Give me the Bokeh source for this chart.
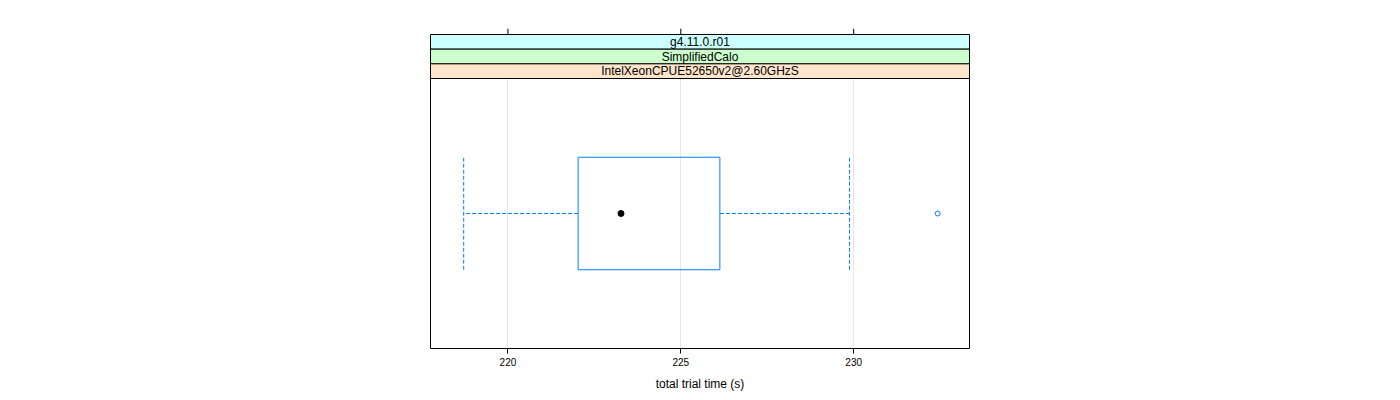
from bokeh.plotting import figure
from bokeh.models import Range1d, FixedTicker, ColumnDataSource
from bokeh.embed import file_html
from bokeh.resources import INLINE
from bokeh.core.properties import value

# ---- data ----
category = ["run"]
whisker_low = [218.72]
q1 = [222.03]
median = [223.27]
q3 = [226.13]
whisker_high = [229.88]
outliers = [232.43]
x_ticks = [220, 225, 230]
x_limits = [217.76, 233.35]
strip_labels = ["g4.11.0.r01", "SimplifiedCalo", "IntelXeonCPUE52650v2@2.60GHzS"]
strip_colors = ["#ccffff", "#ccffcc", "#ffe5cc"]
x_title = "total trial time (s)"

# ---- layout ----
FONT = "Liberation Sans"
BOX_COL = "#0080ff"
DASH = "4 2"
panel_w = 539
panel_px = 270
strip_px = 44 / 3.0
tick_px = 6
pad = 2
strip_top = panel_px + strip_px * len(strip_labels)
frame_top_px = strip_top + tick_px

upp_x = (x_limits[1] - x_limits[0]) / panel_w
fx0 = x_limits[0] - pad * upp_x
fx1 = x_limits[1] + pad * upp_x

ypos = [i + 1 for i in range(len(category))]
y_lo = 0.4
y_hi_panel = len(category) + 0.6
upp_y = (y_hi_panel - y_lo) / panel_px
fy0 = y_lo - pad * upp_y
fy1 = y_lo + frame_top_px * upp_y
half = 0.25

p = figure(
    output_backend="svg", toolbar_location=None,
    frame_width=panel_w + 2 * pad, frame_height=int(round(frame_top_px + pad)),
    min_border_left=430 - pad, min_border_right=419,
    min_border_top=28, min_border_bottom=46,
    x_range=Range1d(fx0, fx1), y_range=Range1d(fy0, fy1),
    y_axis_location=None, x_axis_location="below",
)
p.extra_y_ranges = {"px": Range1d(-pad, frame_top_px)}
p.outline_line_color = None
p.background_fill_color = "white"
p.border_fill_color = "white"

ticker = FixedTicker(ticks=x_ticks)
ax = p.xaxis[0]
ax.ticker = ticker
ax.axis_line_color = None
ax.major_tick_out = 3
ax.major_tick_in = pad
ax.minor_tick_line_color = None
ax.major_tick_line_color = "black"
ax.major_label_text_font = FONT
ax.major_label_text_font_size = "10px"
ax.major_label_text_color = "black"
ax.major_label_standoff = 4
ax.axis_label = x_title
ax.axis_label_text_font = FONT
ax.axis_label_text_font_size = "12px"
ax.axis_label_text_font_style = "normal"
ax.axis_label_text_color = "black"
ax.axis_label_standoff = 8

p.xgrid.ticker = ticker
p.xgrid.grid_line_color = "#e6e6e6"
p.ygrid.grid_line_color = None

# panel border
p.quad(left=[x_limits[0]], right=[x_limits[1]], bottom=[0], top=[panel_px],
       fill_alpha=0, line_color="black", line_width=1, y_range_name="px")

# top tick marks
p.segment(x0=x_ticks, y0=[strip_top] * len(x_ticks), x1=x_ticks, y1=[frame_top_px] * len(x_ticks),
          line_color="black", line_width=1, y_range_name="px")

# box
p.quad(left=q1, right=q3, bottom=[y - half for y in ypos], top=[y + half for y in ypos],
       fill_alpha=0, line_color=BOX_COL, line_width=1)
# whiskers
p.segment(x0=q1, y0=ypos, x1=whisker_low, y1=ypos, line_color=BOX_COL, line_dash=DASH, line_width=1)
p.segment(x0=q3, y0=ypos, x1=whisker_high, y1=ypos, line_color=BOX_COL, line_dash=DASH, line_width=1)
p.segment(x0=whisker_low, y0=[y - half for y in ypos], x1=whisker_low, y1=[y + half for y in ypos],
          line_color=BOX_COL, line_dash=DASH, line_width=1)
p.segment(x0=whisker_high, y0=[y - half for y in ypos], x1=whisker_high, y1=[y + half for y in ypos],
          line_color=BOX_COL, line_dash=DASH, line_width=1)
# median dot and outlier
p.scatter(x=median, y=ypos, size=6, marker="circle", fill_color="black", line_color="black")
p.scatter(x=outliers, y=[ypos[0]] * len(outliers), size=5, marker="circle",
          fill_alpha=0, line_color=BOX_COL, line_width=1)

# strips (top to bottom)
n = len(strip_labels)
bottoms = [panel_px + strip_px * (n - 1 - i) for i in range(n)]
tops = [b + strip_px for b in bottoms]
src = ColumnDataSource(dict(
    left=[x_limits[0]] * n, right=[x_limits[1]] * n,
    bottom=bottoms, top=tops, color=strip_colors, label=strip_labels,
    xc=[(x_limits[0] + x_limits[1]) / 2] * n, yc=[(b + t) / 2 for b, t in zip(bottoms, tops)],
))
p.quad(left="left", right="right", bottom="bottom", top="top", fill_color="color",
       line_color="black", line_width=1, source=src, y_range_name="px")
p.text(x="xc", y="yc", text="label", source=src, y_range_name="px",
       text_font=value(FONT), text_font_size="12px", text_align="center",
       text_baseline="middle", text_color="black")

open("out.html", "w").write(file_html(p, INLINE))
